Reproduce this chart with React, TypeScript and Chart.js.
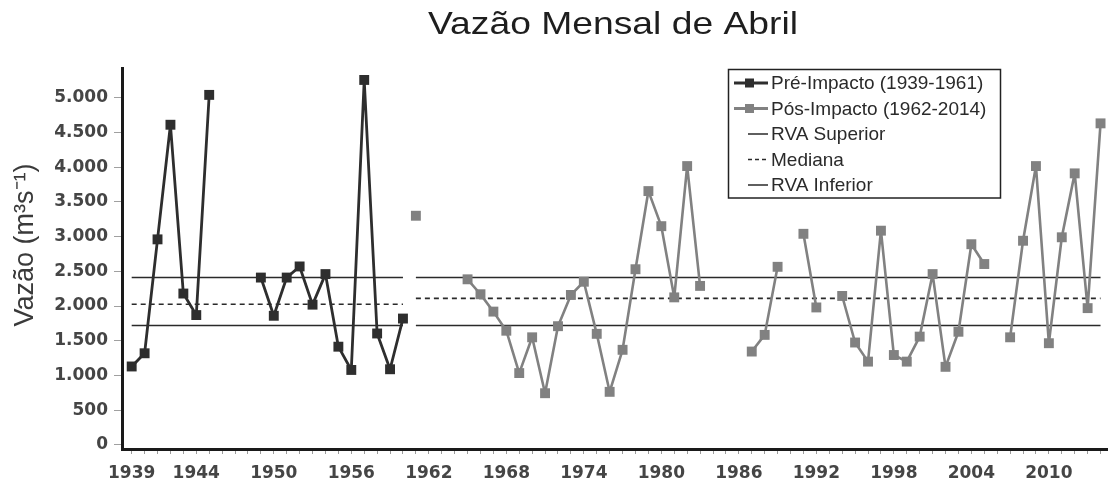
import React, { useEffect, useRef } from "react";
import { Chart, registerables } from "chart.js";

Chart.register(...registerables);

const TITLE = "Vazão Mensal de Abril";
const Y_TITLE = "Vazão (m³s⁻¹)";
const PRE_LABEL = "Pré-Impacto (1939-1961)";
const POST_LABEL = "Pós-Impacto (1962-2014)";
const SUP_LABEL = "RVA Superior";
const MED_LABEL = "Mediana";
const INF_LABEL = "RVA Inferior";

// x-axis labelled years
const YEAR_LABELS = [1939, 1944, 1950, 1956, 1962, 1968, 1974, 1980, 1986, 1992, 1998, 2004, 2010];
// y-axis ticks
const Y_TICKS = [0, 500, 1000, 1500, 2000, 2500, 3000, 3500, 4000, 4500, 5000];

// Pré-Impacto series
const PRE_YEARS = [
  1939, 1940, 1941, 1942, 1943, 1944, 1945, 1946, 1947, 1948, 1949,
  1950, 1951, 1952, 1953, 1954, 1955, 1956, 1957, 1958, 1959, 1960,
];
const PRE_VALUES = [
  1130, 1320, 2960, 4610, 2180, 1870, 5040, null, null, null, 2410,
  1860, 2410, 2570, 2020, 2460, 1415, 1080, 5255, 1605, 1090, 1820,
];

// Pós-Impacto series
const POST_YEARS = [
  1961, 1962, 1963, 1964, 1965, 1966, 1967, 1968, 1969, 1970,
  1971, 1972, 1973, 1974, 1975, 1976, 1977, 1978, 1979, 1980,
  1981, 1982, 1983, 1984, 1985, 1986, 1987, 1988, 1989, 1990,
  1991, 1992, 1993, 1994, 1995, 1996, 1997, 1998, 1999, 2000,
  2001, 2002, 2003, 2004, 2005, 2006, 2007, 2008, 2009, 2010,
  2011, 2012, 2013, 2014,
];
const POST_VALUES = [
  3300, null, null, null, 2385, 2170, 1920, 1645, 1035, 1550,
  745, 1710, 2160, 2350, 1600, 765, 1370, 2530, 3655, 3150,
  2125, 4015, 2290, null, null, null, 1345, 1585, 2565, null,
  3040, 1980, null, 2145, 1475, 1200, 3085, 1295, 1200, 1560,
  2460, 1125, 1630, 2890, 2605, null, 1550, 2940, 4015, 1465,
  2990, 3910, 1970, 4630,
];

// Reference lines: [pre-impact, post-impact]
const PRE_PERIOD = [1939, 1960];
const POST_PERIOD = [1961, 2014];
const RVA_SUP = [2410, 2410];
const MEDIANA = [2025, 2110];
const RVA_INF = [1720, 1720];

const PRE_COLOR = "#2e2e2e";
const POST_COLOR = "#818181";
const REF_COLOR = "#2a2a2a";

const fmt = (v: number) => String(v).replace(/\B(?=(\d{3})+(?!\d))/g, ".");

const toPoints = (xs: number[], ys: (number | null)[]) => xs.map((x, i) => ({ x, y: ys[i] }));

const refLine = (vals: number[]) => [
  { x: PRE_PERIOD[0], y: vals[0] },
  { x: PRE_PERIOD[1], y: vals[0] },
  { x: (PRE_PERIOD[1] + POST_PERIOD[0]) / 2, y: null },
  { x: POST_PERIOD[0], y: vals[1] },
  { x: POST_PERIOD[1], y: vals[1] },
];

const textPlugin = {
  id: "customText",
  afterDraw(chart: any) {
    const ctx: CanvasRenderingContext2D = chart.ctx;
    // Title
    ctx.save();
    ctx.fillStyle = "#1e1e1e";
    ctx.font = "32px 'Liberation Sans', Arial, sans-serif";
    const tw = ctx.measureText(TITLE).width;
    ctx.translate(613, 25);
    ctx.scale(370 / tw, 1);
    ctx.textAlign = "center";
    ctx.textBaseline = "middle";
    ctx.fillText(TITLE, 0, 0);
    ctx.restore();

    // Y axis title
    ctx.save();
    ctx.fillStyle = "#3a3a3a";
    ctx.font = "27px 'Liberation Sans', Arial, sans-serif";
    ctx.translate(26, 245);
    ctx.rotate(-Math.PI / 2);
    ctx.textAlign = "center";
    ctx.textBaseline = "middle";
    ctx.fillText(Y_TITLE, 0, 0);
    ctx.restore();

    // Legend
    ctx.save();
    const bx = 728.5, by = 69.5, bw = 272, bh = 128.5;
    ctx.fillStyle = "#ffffff";
    ctx.fillRect(bx, by, bw, bh);
    ctx.strokeStyle = "#222";
    ctx.lineWidth = 1.5;
    ctx.strokeRect(bx, by, bw, bh);
    const rows = [
      { label: PRE_LABEL, kind: "series", color: PRE_COLOR },
      { label: POST_LABEL, kind: "series", color: POST_COLOR },
      { label: SUP_LABEL, kind: "solid", color: REF_COLOR },
      { label: MED_LABEL, kind: "dash", color: REF_COLOR },
      { label: INF_LABEL, kind: "solid", color: REF_COLOR },
    ];
    ctx.font = "19px 'Liberation Sans', Arial, sans-serif";
    ctx.textAlign = "left";
    ctx.textBaseline = "middle";
    rows.forEach((r, i) => {
      const y = 83 + i * 25.5;
      ctx.strokeStyle = r.color;
      if (r.kind === "series") {
        ctx.lineWidth = 3;
        ctx.setLineDash([]);
        ctx.beginPath();
        ctx.moveTo(734, y);
        ctx.lineTo(768, y);
        ctx.stroke();
        ctx.fillStyle = r.color;
        ctx.fillRect(745, y - 4.5, 9, 9);
      } else {
        ctx.lineWidth = 1.5;
        ctx.setLineDash(r.kind === "dash" ? [4, 3] : []);
        ctx.beginPath();
        ctx.moveTo(748, y);
        ctx.lineTo(768, y);
        ctx.stroke();
      }
      ctx.setLineDash([]);
      ctx.fillStyle = "#2a2a2a";
      ctx.fillText(r.label, 771, y + 1);
    });
    ctx.restore();
  },
};

export default function App() {
  const canvasRef = useRef<HTMLCanvasElement | null>(null);

  useEffect(() => {
    if (!canvasRef.current) return;
    const allYears = [...PRE_YEARS, ...POST_YEARS];
    const chart = new Chart(canvasRef.current, {
      type: "line",
      data: {
        datasets: [
          {
            label: PRE_LABEL,
            data: toPoints(PRE_YEARS, PRE_VALUES),
            borderColor: PRE_COLOR,
            backgroundColor: PRE_COLOR,
            borderWidth: 2.8,
            borderJoinStyle: "round",
            pointStyle: "rect",
            pointRadius: 7,
            pointBorderWidth: 0,
            tension: 0,
            spanGaps: false,
          },
          {
            label: POST_LABEL,
            data: toPoints(POST_YEARS, POST_VALUES),
            borderColor: POST_COLOR,
            backgroundColor: POST_COLOR,
            borderWidth: 2.6,
            borderJoinStyle: "round",
            pointStyle: "rect",
            pointRadius: 7,
            pointBorderWidth: 0,
            tension: 0,
            spanGaps: false,
          },
          {
            label: SUP_LABEL,
            data: refLine(RVA_SUP),
            borderColor: REF_COLOR,
            borderWidth: 1.6,
            pointRadius: 0,
            spanGaps: false,
          },
          {
            label: MED_LABEL,
            data: refLine(MEDIANA),
            borderColor: REF_COLOR,
            borderWidth: 1.6,
            borderDash: [5, 4],
            pointRadius: 0,
            spanGaps: false,
          },
          {
            label: INF_LABEL,
            data: refLine(RVA_INF),
            borderColor: REF_COLOR,
            borderWidth: 1.6,
            pointRadius: 0,
            spanGaps: false,
          },
        ] as any,
      },
      options: {
        animation: false,
        responsive: true,
        maintainAspectRatio: false,
        layout: { padding: { top: 68, left: 0, right: 0, bottom: 0 } },
        plugins: {
          legend: { display: false },
          title: { display: false },
          tooltip: { enabled: false },
        },
        scales: {
          x: {
            type: "linear",
            min: 1938.25,
            max: 2014.5,
            afterBuildTicks: (s: any) => {
              s.ticks = allYears.map((v) => ({ value: v }));
            },
            afterFit: (s: any) => {
              s.height = 37;
            },
            ticks: {
              autoSkip: false,
              maxRotation: 0,
              minRotation: 0,
              padding: 9,
              color: "#454545",
              font: { family: "'DejaVu Sans', sans-serif", size: 17, weight: "bold" },
              callback: (v: any) => (YEAR_LABELS.includes(Number(v)) ? String(v) : ""),
            },
            grid: {
              drawOnChartArea: false,
              drawTicks: true,
              tickLength: 5,
              tickColor: "#9a9a9a",
              tickWidth: 1,
            },
            border: { display: true, color: "#1a1a1a", width: 3 },
          },
          y: {
            type: "linear",
            min: -58,
            max: 5427,
            afterBuildTicks: (s: any) => {
              s.ticks = Y_TICKS.map((v) => ({ value: v }));
            },
            afterFit: (s: any) => {
              s.width = 122;
            },
            ticks: {
              padding: 6,
              color: "#454545",
              font: { family: "'DejaVu Sans', sans-serif", size: 17, weight: "bold" },
              callback: (v: any) => fmt(Number(v)),
            },
            grid: {
              drawOnChartArea: false,
              drawTicks: true,
              tickLength: 8,
              tickColor: "#a0a0a0",
              tickWidth: 1,
            },
            border: { display: true, color: "#1a1a1a", width: 3 },
          },
        },
      } as any,
      plugins: [textPlugin],
    });
    return () => chart.destroy();
  }, []);

  return (
    <div style={{ position: "fixed", left: 0, top: 0, width: 1114, height: 486, background: "#fff" }}>
      <canvas ref={canvasRef} />
    </div>
  );
}
